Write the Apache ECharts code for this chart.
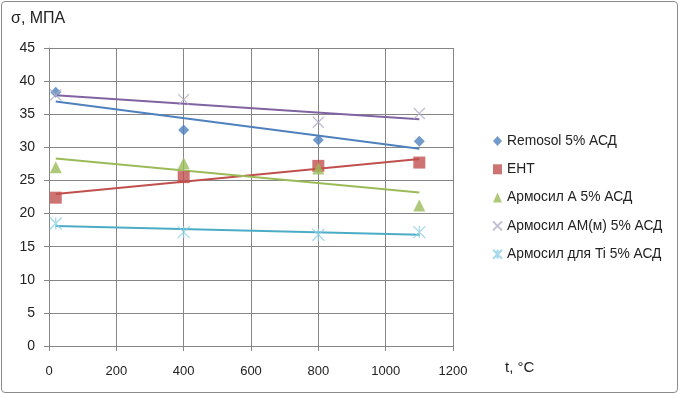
<!DOCTYPE html>
<html>
<head>
<meta charset="utf-8">
<script src="https://cdn.jsdelivr.net/npm/echarts@6/dist/echarts.min.js"></script>
<style>
  html, body { margin: 0; padding: 0; background: #fff; }
  #frame { position: absolute; left: 1px; top: 1px; width: 675px; height: 390px; border: 1px solid #8c8c8c; border-radius: 4px; }
  #chart { width: 679px; height: 394px; }
</style>
</head>
<body>
<div id="frame"></div>
<div id="chart"></div>
<script>
// temperatures, °C
const temps = [20, 400, 800, 1100]

const seriesNames = [
  'Remosol 5% АСД',
  'ЕНТ',
  'Армосил А 5% АСД',
  'Армосил АМ(м) 5% АСД',
  'Армосил для Ti 5% АСД'
]

// σ, МПа
const remosol = [38.3, 32.6, 31.1, 30.9]
const eht = [22.4, 25.5, 27.2, 27.7]
const armosilA = [27.0, 27.6, 26.8, 21.2]
const armosilAM = [37.9, 37.2, 33.8, 35.1]
const armosilTi = [18.5, 17.2, 16.8, 17.2]

const yTicks = [0, 5, 10, 15, 20, 25, 30, 35, 40, 45]
const xTicks = [0, 200, 400, 600, 800, 1000, 1200]

const values = [remosol, eht, armosilA, armosilAM, armosilTi]
const colors = ['#4F81BD', '#C0504D', '#9BBB59', '#8064A2', '#4BACC6']
const markerColors = ['#4F81BD', '#C0504D', '#9BBB59', '#b3aec9', '#8fd0e6']

const crossPath = 'path://M0,0L10,10M10,0L0,10'
const starPath = 'path://M0,0L10,10M10,0L0,10M5,0L5,10'
const symbols = ['diamond', 'rect', 'triangle', crossPath, starPath]
const sizes = [11, 12, 12, 11, 12]

// linear least-squares trend from the data
function trend(xs, ys) {
  const n = xs.length
  const mx = xs.reduce((a, b) => a + b, 0) / n
  const my = ys.reduce((a, b) => a + b, 0) / n
  let sxy = 0, sxx = 0
  for (let i = 0; i < n; i++) {
    sxy += (xs[i] - mx) * (ys[i] - my)
    sxx += (xs[i] - mx) * (xs[i] - mx)
  }
  const k = sxy / sxx
  const x0 = xs[0], x1 = xs[n - 1]
  return [[x0, my + k * (x0 - mx)], [x1, my + k * (x1 - mx)]]
}

const font = '"Liberation Sans", Arial, sans-serif'

const chart = echarts.init(document.getElementById('chart'))

const series = []
values.forEach((ys, i) => {
  series.push({
    name: seriesNames[i] + ' trend',
    type: 'line',
    data: trend(temps, ys),
    symbol: 'none',
    silent: true,
    lineStyle: { color: colors[i], width: 2 },
    z: 2
  })
})
values.forEach((ys, i) => {
  const isPath = i >= 3
  series.push({
    name: seriesNames[i],
    type: 'scatter',
    data: temps.map((t, j) => [t, ys[j]]),
    symbol: symbols[i],
    symbolSize: sizes[i],
    itemStyle: isPath
      ? { color: 'transparent', borderColor: markerColors[i], borderWidth: 1.3 }
      : { color: markerColors[i] },
    z: 3
  })
})

chart.setOption({
  animation: false,
  textStyle: { fontFamily: font },
  grid: { left: 49, top: 48, right: 226, bottom: 48 },
  legend: {
    data: seriesNames,
    orient: 'vertical',
    left: 487,
    top: 129,
    itemGap: 14.3,
    itemWidth: 9,
    itemHeight: 10,
    textStyle: { fontSize: 13.8, color: '#222', fontFamily: font }
  },
  xAxis: {
    type: 'value',
    min: xTicks[0],
    max: xTicks[xTicks.length - 1],
    interval: 200,
    name: 't, °C',
    nameLocation: 'end',
    nameGap: 0,
    nameTextStyle: { fontSize: 15, color: '#222', align: 'left', verticalAlign: 'top', padding: [14, 0, 0, 52] },
    axisLine: { show: true, lineStyle: { color: '#868686' } },
    axisTick: { show: true, length: 5, lineStyle: { color: '#868686' } },
    axisLabel: { fontSize: 13, color: '#222', margin: 19, formatter: v => String(v) },
    splitLine: { show: true, lineStyle: { color: '#868686', width: 1 } }
  },
  yAxis: {
    type: 'value',
    min: yTicks[0],
    max: yTicks[yTicks.length - 1],
    interval: 5,
    name: 'σ, МПА',
    nameLocation: 'end',
    nameGap: 21,
    nameTextStyle: { fontSize: 16, color: '#222', align: 'left', padding: [0, 0, 0, -38] },
    axisLine: { show: true, lineStyle: { color: '#868686' } },
    axisTick: { show: true, length: 5, lineStyle: { color: '#868686' } },
    axisLabel: { fontSize: 14, color: '#222', margin: 14 },
    splitLine: { show: true, lineStyle: { color: '#868686', width: 1 } }
  },
  series
})
</script>
</body>
</html>
